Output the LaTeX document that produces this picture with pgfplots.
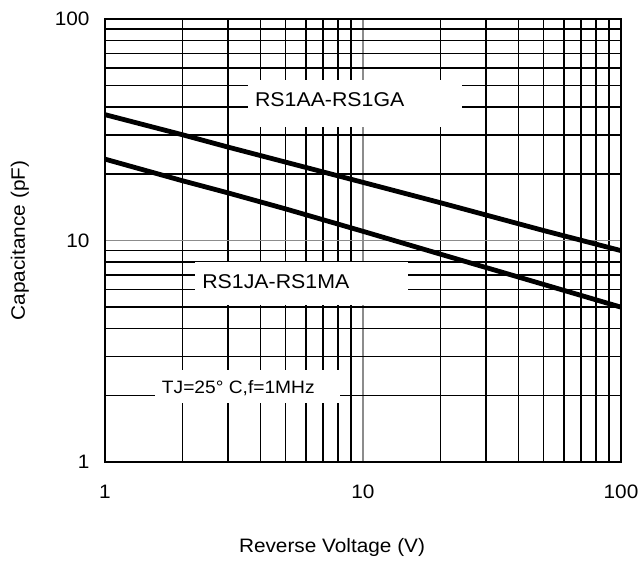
\documentclass[border=0pt]{standalone}
\usepackage{fontspec}
\setmainfont[FakeStretch=1.07]{Liberation Sans}
\usepackage{pgfplots}
\usepackage{pgfplotstable}
\pgfplotsset{compat=1.18}

% upper curve: RS1AA-RS1GA, lower curve: RS1JA-RS1MA
\pgfplotstableread{
V C
1 37.0
2 30.0
3 26.4
5 22.6
10 18.3
20 14.8
50 11.1
100 9.0
}\dataAG
\pgfplotstableread{
V C
1 23.3
2 18.6
3 16.4
5 13.9
10 11.0
20 8.67
50 6.34
100 5.0
}\dataJM

\begin{document}
\begin{tikzpicture}
\path[use as bounding box] (-105bp,-103bp) rectangle (534bp,462bp);
\begin{axis}[
    xmode=log, ymode=log,
    scale only axis, width=516bp, height=443bp,
    xmin=1, xmax=100, ymin=1, ymax=100,
    xtick={1,10,100}, ytick={1,10,100},
    xticklabels={1,10,100}, yticklabels={1,10,100},
    minor xtick={2,3,4,5,6,7,8,9,20,30,40,50,60,70,80,90},
    minor ytick={2,3,4,5,6,7,8,9,20,30,40,50,60,70,80,90},
    grid=both,
    major grid style={black!45, line width=1.6bp},
    minor grid style={black, line width=1.6bp},
    major tick length=0pt, minor tick length=0pt,
    axis line style={line width=2.4bp},
    tick label style={font=\fontsize{19.5}{22}\selectfont},
    /pgf/number format/assume math mode=true,
    xticklabel style={anchor=center, yshift=-30bp},
    yticklabel style={xshift=-12bp},
    xlabel={Reverse Voltage (V)},
    ylabel={Capacitance (pF)},
    label style={font=\fontsize{19.5}{22}\selectfont},
    xlabel style={at={(axis description cs:0.44,-0.192)}, anchor=center},
    ylabel style={at={(axis description cs:-0.165,0.5)}, anchor=center},
]
\addplot[black, line width=4.8bp] table[x=V, y=C] {\dataAG};
\addplot[black, line width=4.8bp] table[x=V, y=C] {\dataJM};

% white label boxes over the grid
\fill[white] (axis cs:3.58,32.5) rectangle (axis cs:24.2,53.0);
\node[anchor=west, inner sep=0pt, font=\fontsize{20}{24}\selectfont] at (axis cs:3.81,43.1) {RS1AA-RS1GA};
\fill[white] (axis cs:2.23,5.11) rectangle (axis cs:14.9,8.0);
\node[anchor=west, inner sep=0pt, font=\fontsize{20}{24}\selectfont] at (axis cs:2.38,6.5) {RS1JA-RS1MA};
\fill[white] (axis cs:1.56,1.85) rectangle (axis cs:8.15,2.60);
\node[anchor=west, inner sep=0pt, font=\fontsize{18}{22}\selectfont] at (axis cs:1.66,2.16) {TJ=25° C,f=1MHz};
\end{axis}
\end{tikzpicture}
\end{document}
